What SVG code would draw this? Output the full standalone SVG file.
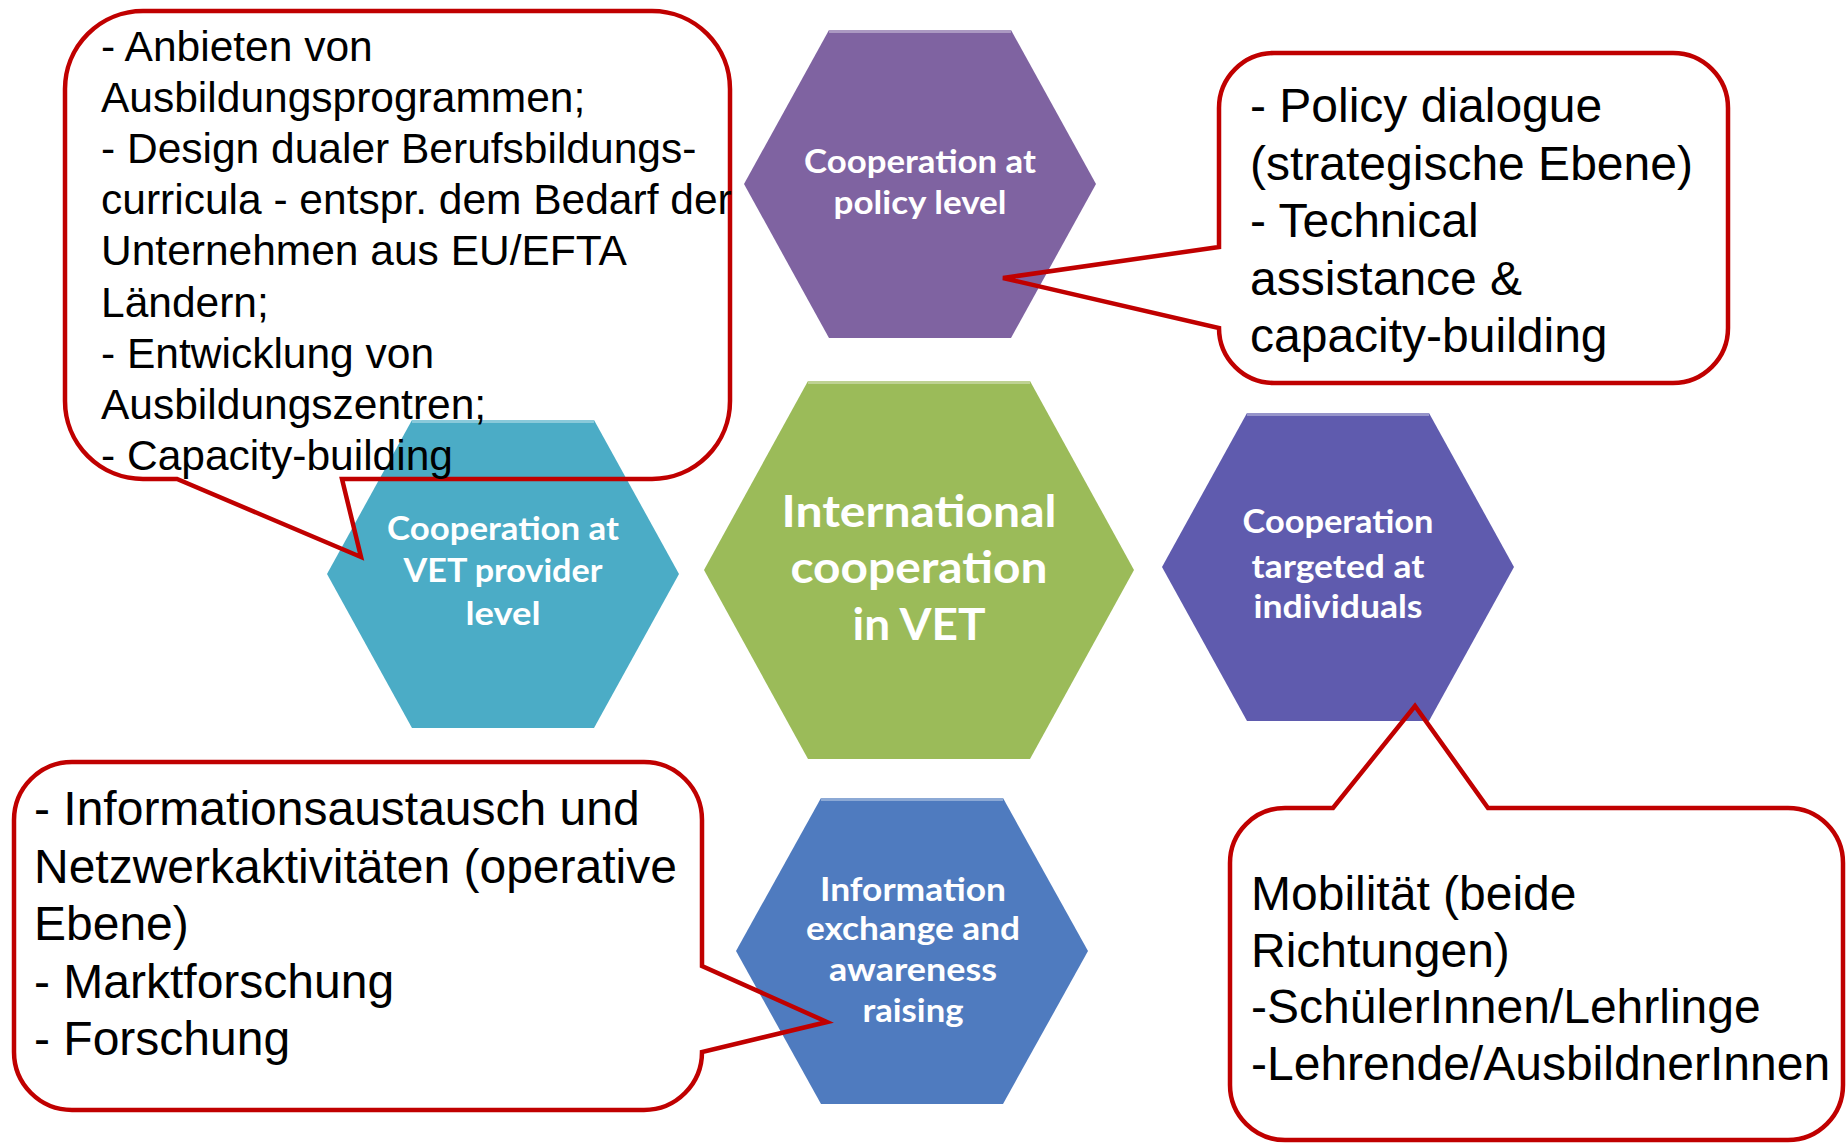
<svg xmlns="http://www.w3.org/2000/svg" width="1847" height="1145" viewBox="0 0 1847 1145">
<style>
.hex-t{font-family:"Lato","Open Sans","Liberation Sans",sans-serif;font-weight:bold;fill:#ffffff;text-anchor:middle;font-size:32px}
.hex-big{font-size:43px}
.top{stroke:#ffffff;stroke-opacity:0.35;stroke-width:3;fill:none}
.callout{fill:none;stroke:#C00000;stroke-width:4.5;stroke-linejoin:miter}
.ct{font-family:"Liberation Sans",Arial,sans-serif;fill:#000000;font-size:48px}
.ct-s{font-size:42.5px}
</style>
<rect width="1847" height="1145" fill="#ffffff"/>

<g id="hex-policy">
<polygon points="829,30 1011,30 1096,184 1011,338 829,338 744,184" fill="#7F63A1"/>
<line class="top" x1="829" y1="31.5" x2="1011" y2="31.5"/>
<text class="hex-t" x="920" y="173" textLength="232" lengthAdjust="spacingAndGlyphs">Cooperation at</text>
<text class="hex-t" x="920" y="214" textLength="173" lengthAdjust="spacingAndGlyphs">policy level</text>
</g>

<g id="hex-vet-provider">
<polygon points="412,420 594,420 679,574 594,728 412,728 327,574" fill="#4BACC6"/>
<line class="top" x1="412" y1="421.5" x2="594" y2="421.5"/>
<text class="hex-t" x="503" y="540" textLength="232" lengthAdjust="spacingAndGlyphs">Cooperation at</text>
<text class="hex-t" x="503" y="582" textLength="199" lengthAdjust="spacingAndGlyphs">VET provider</text>
<text class="hex-t" x="503" y="625" textLength="75" lengthAdjust="spacingAndGlyphs">level</text>
</g>

<g id="hex-center">
<polygon points="808,381 1030,381 1134,570 1030,759 808,759 704,570" fill="#9BBB59"/>
<line class="top" x1="808" y1="382.5" x2="1030" y2="382.5"/>
<text class="hex-t hex-big" x="919" y="527" textLength="275" lengthAdjust="spacingAndGlyphs">International</text>
<text class="hex-t hex-big" x="919" y="583" textLength="257" lengthAdjust="spacingAndGlyphs">cooperation</text>
<text class="hex-t hex-big" x="919" y="640" textLength="133" lengthAdjust="spacingAndGlyphs">in VET</text>
</g>

<g id="hex-individuals">
<polygon points="1247,413 1429,413 1514,567 1429,721 1247,721 1162,567" fill="#5F5BAE"/>
<line class="top" x1="1247" y1="414.5" x2="1429" y2="414.5"/>
<text class="hex-t" x="1338" y="533" textLength="191" lengthAdjust="spacingAndGlyphs">Cooperation</text>
<text class="hex-t" x="1338" y="578" textLength="173" lengthAdjust="spacingAndGlyphs">targeted at</text>
<text class="hex-t" x="1338" y="618" textLength="169" lengthAdjust="spacingAndGlyphs">individuals</text>
</g>

<g id="hex-information">
<polygon points="821,798 1003,798 1088,951 1003,1104 821,1104 736,951" fill="#4F7BBF"/>
<line class="top" x1="821" y1="799.5" x2="1003" y2="799.5"/>
<text class="hex-t" x="913" y="901" textLength="186" lengthAdjust="spacingAndGlyphs">Information</text>
<text class="hex-t" x="913" y="940" textLength="214" lengthAdjust="spacingAndGlyphs">exchange and</text>
<text class="hex-t" x="913" y="981" textLength="168" lengthAdjust="spacingAndGlyphs">awareness</text>
<text class="hex-t" x="913" y="1022" textLength="101" lengthAdjust="spacingAndGlyphs">raising</text>
</g>

<g id="connectors"></g>

<g id="callout-provider">
<path class="callout" d="M143,11 H652 A78,78 0 0 1 730,89 V401 A78,78 0 0 1 652,479 H342 L361,557 L177,479 H143 A78,78 0 0 1 65,401 V89 A78,78 0 0 1 143,11 Z"/>
<text class="ct ct-s" x="101" y="61">- Anbieten von</text>
<text class="ct ct-s" x="101" y="112">Ausbildungsprogrammen;</text>
<text class="ct ct-s" x="101" y="163">- Design dualer Berufsbildungs-</text>
<text class="ct ct-s" x="101" y="214">curricula - entspr. dem Bedarf der</text>
<text class="ct ct-s" x="101" y="265">Unternehmen aus EU/EFTA</text>
<text class="ct ct-s" x="101" y="317">Ländern;</text>
<text class="ct ct-s" x="101" y="368">- Entwicklung von</text>
<text class="ct ct-s" x="101" y="419">Ausbildungszentren;</text>
<text class="ct ct-s" x="101" y="470">- Capacity-building</text>
</g>

<g id="callout-policy">
<path class="callout" d="M1274,53 H1673 A55,55 0 0 1 1728,108 V328 A55,55 0 0 1 1673,383 H1274 A55,55 0 0 1 1219,328 L1003,278 L1219,247 V108 A55,55 0 0 1 1274,53 Z"/>
<text class="ct" x="1250" y="122">- Policy dialogue</text>
<text class="ct" x="1250" y="180">(strategische Ebene)</text>
<text class="ct" x="1250" y="237">- Technical</text>
<text class="ct" x="1250" y="295">assistance &amp;</text>
<text class="ct" x="1250" y="352">capacity-building</text>
</g>

<g id="callout-information">
<path class="callout" d="M72,762 H644 A58,58 0 0 1 702,820 V966 L827,1022 L702,1052 A58,58 0 0 1 644,1110 H72 A58,58 0 0 1 14,1052 V820 A58,58 0 0 1 72,762 Z"/>
<text class="ct" x="34" y="825">- Informationsaustausch und</text>
<text class="ct" x="34" y="883">Netzwerkaktivitäten (operative</text>
<text class="ct" x="34" y="940">Ebene)</text>
<text class="ct" x="34" y="998">- Marktforschung</text>
<text class="ct" x="34" y="1055">- Forschung</text>
</g>

<g id="callout-individuals">
<path class="callout" d="M1285,808 H1333 L1415,706 L1488,808 H1788 A55,55 0 0 1 1843,863 V1085 A55,55 0 0 1 1788,1140 H1285 A55,55 0 0 1 1230,1085 V863 A55,55 0 0 1 1285,808 Z"/>
<text class="ct" x="1251" y="910">Mobilität (beide</text>
<text class="ct" x="1251" y="967">Richtungen)</text>
<text class="ct" x="1251" y="1023">-SchülerInnen/Lehrlinge</text>
<text class="ct" x="1251" y="1080">-Lehrende/AusbildnerInnen</text>
</g>
</svg>
